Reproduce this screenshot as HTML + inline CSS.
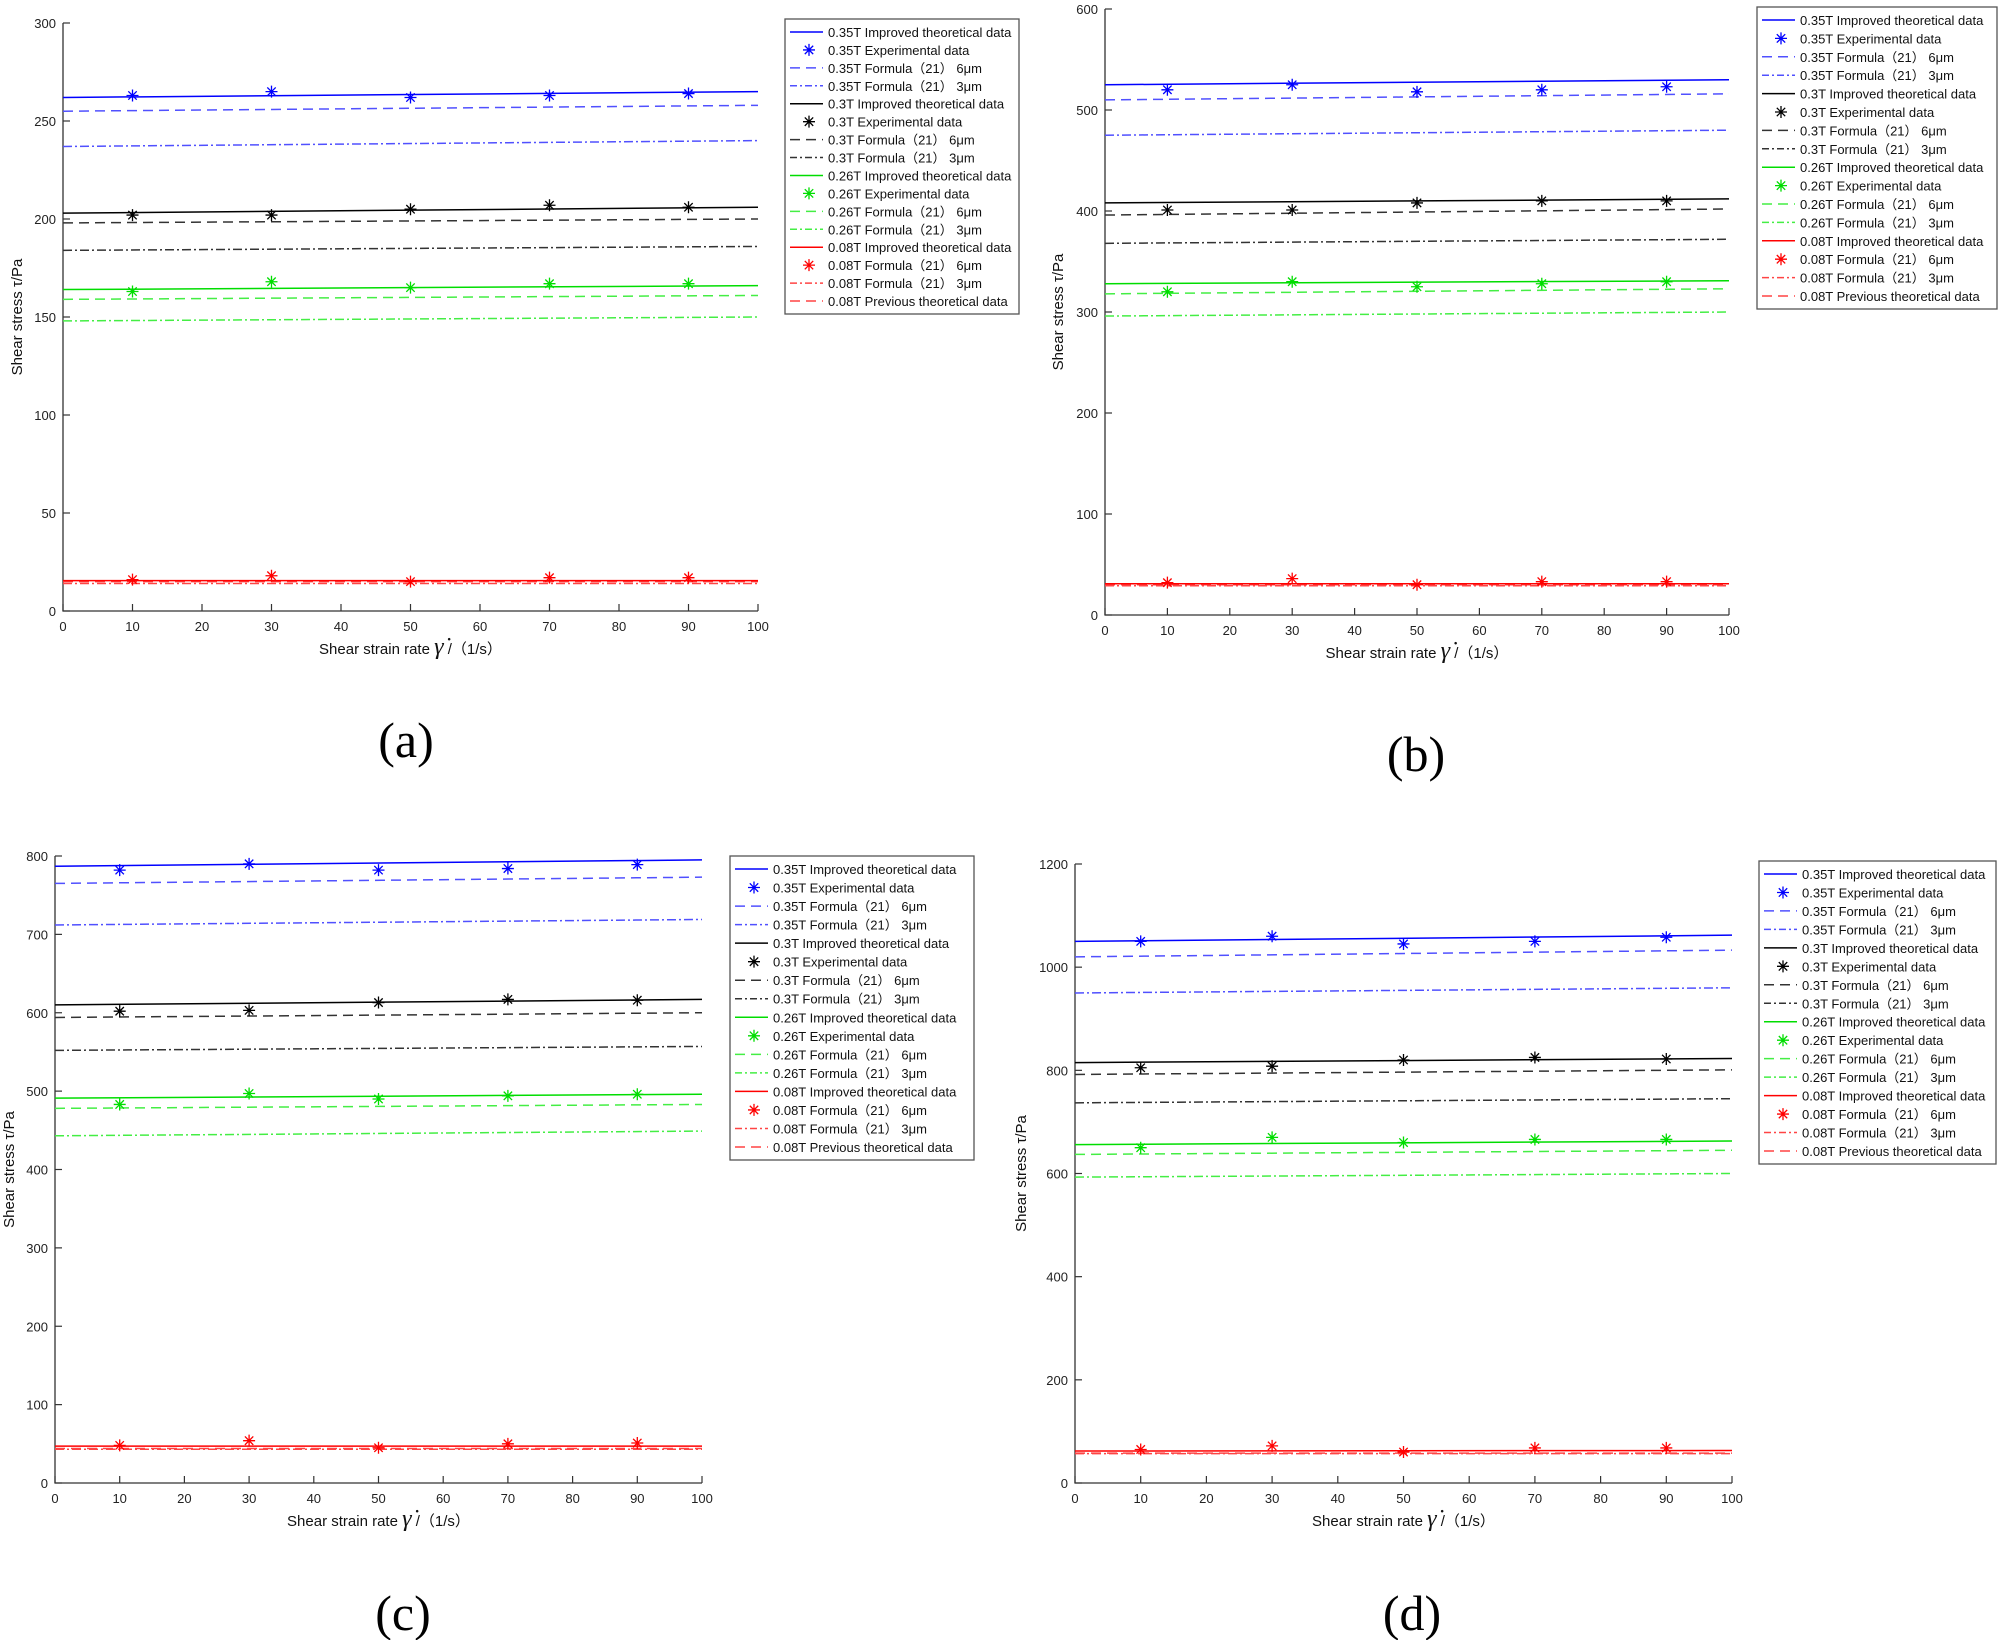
<!DOCTYPE html>
<html><head><meta charset="utf-8">
<style>
html,body{margin:0;padding:0;background:#fff;}
svg{display:block;font-family:"Liberation Sans",Arial,sans-serif;}
</style></head>
<body>
<svg id="fig" width="2004" height="1640" viewBox="0 0 2004 1640" xmlns="http://www.w3.org/2000/svg"></svg>
<script>
// ---- data: x positions of experiments ----
const expX = [10,30,50,70,90];
const fields = ['0.35T','0.3T','0.26T','0.08T'];

// Panel (a)
const aImproved = [[262,265],[203,206],[164,166],[15.5,15.5]];
const aExp = [[263,265,262,263,264],[202,202,205,207,206],[163,168,165,167,167],[16,18,15,17,17]];
const aF6 = [[255,258],[198,200],[159,161],[15,15]];
const aF3 = [[237,240],[184,186],[148,150],[14,14]];
const aTicks = [0,50,100,150,200,250,300];

// Panel (b)
const bImproved = [[525,530],[408,412],[328,331],[31,31]];
const bExp = [[520,525,518,520,523],[401,401,408,410,410],[320,330,325,328,330],[32,36,30,33,33]];
const bF6 = [[510,516],[396,402],[318,323],[30,30]];
const bF3 = [[475,480],[368,372],[296,300],[29,29]];
const bTicks = [0,100,200,300,400,500,600];

// Panel (c)
const cImproved = [[787,795],[610,617],[491,496],[47,47]];
const cExp = [[782,790,782,784,789],[602,603,613,617,616],[483,497,490,494,496],[48,54,45,50,51]];
const cF6 = [[765,773],[594,600],[478,483],[44,44]];
const cF3 = [[712,719],[552,557],[443,449],[43,43]];
const cTicks = [0,100,200,300,400,500,600,700,800];

// Panel (d)
const dImproved = [[1050,1062],[815,823],[656,663],[62,63]];
const dExp = [[1050,1060,1045,1050,1058],[805,808,820,825,822],[650,670,660,666,666],[65,72,60,68,68]];
const dF6 = [[1020,1033],[792,801],[637,645],[58,58]];
const dF3 = [[950,960],[737,745],[593,600],[57,57]];
const dTicks = [0,200,400,600,800,1000,1200];

const xTicks = [0,10,20,30,40,50,60,70,80,90,100];

const NS = 'http://www.w3.org/2000/svg';
const svg = document.getElementById('fig');
const colors = ['#0000ff','#000000','#00dd00','#ff0000'];
const light = ['#5050ff','#333333','#44ee44','#ff4444'];

function mk(tag, attrs, parent){
  const e = document.createElementNS(NS, tag);
  for (const k in attrs) e.setAttribute(k, attrs[k]);
  (parent||svg).appendChild(e);
  return e;
}

function star(g, x, y, c){
  const s = 6;
  const p = mk('path', {d:`M${x-s},${y}H${x+s}M${x},${y-s}V${y+s}M${x-s*0.7},${y-s*0.7}L${x+s*0.7},${y+s*0.7}M${x-s*0.7},${y+s*0.7}L${x+s*0.7},${y-s*0.7}`, stroke:c, 'stroke-width':1.3, fill:'none'}, g);
  
  
}

function panel(cfg){
  const g = mk('g', {});
  
  
  const ymax = cfg.ticks[cfg.ticks.length-1];
  const X = v => cfg.x0 + (cfg.x1-cfg.x0)*v/100;
  const Y = v => cfg.y0 - (cfg.y0-cfg.y1)*v/ymax;
  // axes
  const ax = mk('path', {d:`M${cfg.x0},${cfg.y1}V${cfg.y0}H${cfg.x1}`, stroke:'#333', 'stroke-width':1.3, fill:'none'}, g);
  
  
  xTicks.forEach(t => {
    mk('line', {x1:X(t), x2:X(t), y1:cfg.y0, y2:cfg.y0-7, stroke:'#333', 'stroke-width':1.2}, g);
    const tx = mk('text', {x:X(t), y:cfg.y0+20, 'font-size':13, 'text-anchor':'middle', fill:'#222'}, g);
    tx.textContent = t;
    
    
  });
  cfg.ticks.forEach(t => {
    mk('line', {x1:cfg.x0, x2:cfg.x0+7, y1:Y(t), y2:Y(t), stroke:'#333', 'stroke-width':1.2}, g);
    const tx = mk('text', {x:cfg.x0-7, y:Y(t)+5, 'font-size':13, 'text-anchor':'end', fill:'#222'}, g);
    tx.textContent = t;
    
    
  });
  // y title
  const yt = mk('text', {x:cfg.ytx, y:(cfg.y0+cfg.y1)/2, 'font-size':15, 'text-anchor':'middle', transform:`rotate(-90 ${cfg.ytx} ${(cfg.y0+cfg.y1)/2})`, fill:'#111'}, g);
  yt.textContent = 'Shear stress  τ/Pa';
  
  
  // x title
  const xt = mk('text', {x:(cfg.x0+cfg.x1)/2, y:cfg.y0+43, 'font-size':15, 'text-anchor':'middle', fill:'#111'}, g);
  xt.innerHTML = 'Shear strain rate <tspan font-size="24" font-style="italic" font-family="Liberation Serif">γ̇</tspan> /（1/s）';
  
  
  // series
  for (let i=0;i<4;i++){
    const line = (arr, dash, col, name) => {
      const l = mk('line', {x1:X(0), y1:Y(arr[0]), x2:X(100), y2:Y(arr[1]), stroke:col, 'stroke-width':1.5, 'stroke-dasharray':dash}, g);
      
      
    };
    line(cfg.f3[i], '9,3,2,3', light[i], fields[i]+'-formula-3um');
    line(cfg.f6[i], '10,6', light[i], fields[i]+'-formula-6um');
    line(cfg.imp[i], '', colors[i], fields[i]+'-improved');
    cfg.exp[i].forEach((v,k) => star(g, X(expX[k]), Y(v), colors[i]));
  }
  // legend
  const L = cfg.leg;
  const lg = mk('g', {}, g);
  
  
  mk('rect', {x:L.x, y:L.y, width:L.w, height:L.h, fill:'#fff', stroke:'#555', 'stroke-width':1.3}, lg);
  const step = (L.h-26)/15;
  const entries = [];
  for (let i=0;i<3;i++){
    entries.push([fields[i]+' Improved theoretical data','s',i]);
    entries.push([fields[i]+' Experimental data','m',i]);
    entries.push([fields[i]+' Formula（21） 6μm','d',i]);
    entries.push([fields[i]+' Formula（21） 3μm','dd',i]);
  }
  entries.push(['0.08T Improved theoretical data','s',3]);
  entries.push(['0.08T Formula（21） 6μm','m',3]);
  entries.push(['0.08T Formula（21） 3μm','dd',3]);
  entries.push(['0.08T Previous theoretical data','d',3]);
  entries.forEach((e,k) => {
    const yy = L.y + 13 + k*step;
    const c = e[1]==='s'||e[1]==='m' ? colors[e[2]] : light[e[2]];
    if (e[1]==='m') star(lg, L.x+24, yy, c);
    else mk('line', {x1:L.x+5, x2:L.x+38, y1:yy, y2:yy, stroke:c, 'stroke-width':1.5, 'stroke-dasharray': e[1]==='d'?'10,6':(e[1]==='dd'?'7,3,2,3':'')}, lg);
    const t = mk('text', {x:L.x+43, y:yy+5, 'font-size':13, fill:'#111'}, lg);
    t.textContent = e[0];
    
    
  });
  // caption
  const cap = mk('text', {x:cfg.cap[0], y:cfg.cap[1], 'font-size':50, 'text-anchor':'middle', 'font-family':'Liberation Serif', fill:'#000'}, g);
  cap.textContent = '(' + cfg.id + ')';
  
  
}

panel({id:'a', x0:63, x1:758, y0:611, y1:23, ticks:aTicks, imp:aImproved, exp:aExp, f6:aF6, f3:aF3, ytx:22, leg:{x:785,y:19,w:234,h:295}, cap:[406,757]});
panel({id:'b', x0:1105, x1:1729, y0:615, y1:9, ticks:bTicks, imp:bImproved, exp:bExp, f6:bF6, f3:bF3, ytx:1063, leg:{x:1757,y:7,w:240,h:302}, cap:[1416,771]});
panel({id:'c', x0:55, x1:702, y0:1483, y1:856, ticks:cTicks, imp:cImproved, exp:cExp, f6:cF6, f3:cF3, ytx:14, leg:{x:730,y:856,w:244,h:304}, cap:[403,1630]});
panel({id:'d', x0:1075, x1:1732, y0:1483, y1:864, ticks:dTicks, imp:dImproved, exp:dExp, f6:dF6, f3:dF3, ytx:1026, leg:{x:1759,y:861,w:237,h:303}, cap:[1412,1630]});
</script>
</body></html>
